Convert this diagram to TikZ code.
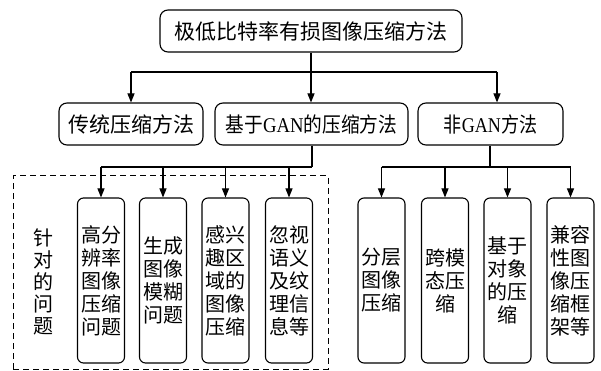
\documentclass[tikz,border=0pt]{standalone}
\usepackage{fontspec}
\usepackage{graphicx}
\setmainfont{Liberation Serif}
\newfontfamily\cjk{Noto Sans CJK SC}
\newfontfamily\lat{Liberation Serif}
\usetikzlibrary{arrows.meta}
\begin{document}
\begin{tikzpicture}[x=1pt,y=-1pt,line width=1.1pt,
  box/.style={draw,rounded corners=8pt,inner sep=0pt,minimum height=42pt,font=\cjk\fontsize{21}{24}\selectfont},
  vbox/.style={draw,rounded corners=6pt,inner sep=0pt,minimum width=47pt,minimum height=165pt,align=center,font=\cjk\fontsize{20}{23}\selectfont},
  lbl/.style={inner sep=0pt,align=center,font=\cjk\fontsize{20}{22}\selectfont},
  arr/.style={-{Triangle[length=9pt,width=7pt]}},
  dashbox/.style={draw,dash pattern=on 6pt off 4pt,line width=1pt}]
\useasboundingbox (0,0) rectangle (601,371);
% top
\node[box,minimum width=302pt] (top) at (311,31) {极低比特率有损图像压缩方法};
% second row
\node[box,minimum width=144pt] (b1) at (131,124) {传统压缩方法};
\node[box,minimum width=193pt] (b2) at (311.5,124) {\scalebox{0.89}[1]{基于{\lat GAN}的压缩方法}};
\node[box,minimum width=145pt] (b3) at (490.5,124) {\scalebox{0.86}[1]{非{\lat GAN}方法}};
% dashed region
\draw[dashbox] (13,369) -- (13,176) -- (328,176) -- (328,369) -- cycle;
\node[lbl] (q) at (43,282) {针\\对\\的\\问\\题};
% third row left
\node[vbox] (c1) at (101,280.5) {高分\\辨率\\图像\\压缩\\问题};
\node[vbox] (c2) at (163,280.5) {生成\\图像\\模糊\\问题};
\node[vbox] (c3) at (225.5,280.5) {感兴\\趣区\\域的\\图像\\压缩};
\node[vbox] (c4) at (289,280.5) {忽视\\语义\\及纹\\理信\\息等};
% third row right
\node[vbox] (d1) at (381.5,280.5) {分层\\图像\\压缩};
\node[vbox] (d2) at (445,280.5) {跨模\\态压\\缩};
\node[vbox] (d3) at (507.5,280.5) {基于\\对象\\的压\\缩};
\node[vbox] (d4) at (570.5,280.5) {兼容\\性图\\像压\\缩框\\架等};
% connectors top
\coordinate (j1) at (311,72);
\coordinate (r3) at ([xshift=6.5pt]b3.north);
\draw (top.south) -- (j1);
\draw (b1.north |- j1) -- (r3 |- j1);
\draw[arr] (b1.north |- j1) -- (b1.north);
\draw[arr] (j1) -- (b2.north -| j1);
\draw[arr] (r3 |- j1) -- (r3);
% connectors left
\coordinate (j2) at (312,167);
\draw (b2.south -| j2) -- (j2);
\draw (c1.north |- j2) -- (j2);
\draw[arr] (c1.north |- j2) -- (c1.north);
\draw[arr] (c2.north |- j2) -- (c2.north);
\draw[arr] (c3.north |- j2) -- (c3.north);
\draw[arr] (c4.north |- j2) -- (c4.north);
% connectors right
\coordinate (j3) at (490,167);
\draw (b3.south -| j3) -- (j3);
\draw (d1.north |- j3) -- (d4.north |- j3);
\draw[arr] (d1.north |- j3) -- (d1.north);
\draw[arr] (d2.north |- j3) -- (d2.north);
\draw[arr] (d3.north |- j3) -- (d3.north);
\draw[arr] (d4.north |- j3) -- (d4.north);
\end{tikzpicture}
\end{document}
